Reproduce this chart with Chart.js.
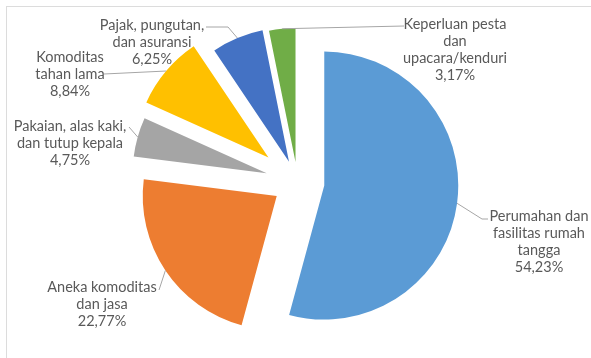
<!DOCTYPE html>
<html>
<head>
<meta charset="utf-8">
<script src="https://cdn.jsdelivr.net/npm/chart.js@4"></script>
<style>
    html, body { margin: 0; padding: 0; background: #fff; }
    #wrap { position: relative; width: 591px; height: 358px; }
    #frame { position: absolute; left: 6px; top: 6px; right: 0; bottom: 0;
             border-top: 1px solid #dcdcdc; border-left: 1px solid #dcdcdc; pointer-events: none; }
</style>
</head>
<body>
<div id="wrap">
    <canvas id="chartPengeluaran" width="591" height="358"></canvas>
    <div id="frame"></div>
</div>
<script>
const kategori = [
    ["Perumahan dan", "fasilitas rumah", "tangga"],
    ["Aneka komoditas", "dan jasa"],
    ["Pakaian, alas kaki,", "dan tutup kepala"],
    ["Komoditas", "tahan lama"],
    ["Pajak, pungutan,", "dan asuransi"],
    ["Keperluan pesta", "dan", "upacara/kenduri"]
];
const persen = [54.23, 22.77, 4.75, 8.84, 6.25, 3.17];

const warna = ["#5b9bd5", "#ed7d31", "#a5a5a5", "#ffc000", "#4472c4", "#70ad47"];

// tarikan tiap irisan (px) dan letak label
const geser = [27, 25, 32, 38, 22, 20];
const letakLabel = [
    { x: 539, y: 216, garis: [[482, 219], [488, 219]] },
    { x: 102, y: 287, garis: [[159, 290]] },
    { x: 70,  y: 126, garis: [[129, 127]] },
    { x: 70,  y: 57,  garis: [[104, 74]] },
    { x: 152, y: 25,  garis: [[228, 27], [206, 27]] },
    { x: 455, y: 24,  garis: [[404, 26]] }
];

const pecahIrisan = {
    id: "pecahIrisan",
    afterDatasetUpdate(chart, args) {
        args.meta.data.forEach((arc, i) => {
            const mid = (arc.startAngle + arc.endAngle) / 2;
            arc.x += geser[i] * Math.cos(mid);
            arc.y += geser[i] * Math.sin(mid);
        });
    }
};

const labelIrisan = {
    id: "labelIrisan",
    afterDraw(chart) {
        const ctx = chart.ctx;
        const meta = chart.getDatasetMeta(0);
        ctx.save();
        meta.data.forEach((arc, i) => {
            const mid = (arc.startAngle + arc.endAngle) / 2;
            const sx = arc.x + arc.outerRadius * Math.cos(mid);
            const sy = arc.y + arc.outerRadius * Math.sin(mid);
            const pos = letakLabel[i];

            ctx.strokeStyle = "#a6a6a6";
            ctx.lineWidth = 1;
            ctx.beginPath();
            ctx.moveTo(sx, sy);
            pos.garis.forEach(p => ctx.lineTo(p[0], p[1]));
            ctx.stroke();

            const baris = kategori[i].concat([persen[i].toFixed(2).replace(".", ",") + "%"]);
            ctx.fillStyle = "#595959";
            ctx.font = "14.5px Lato";
            ctx.textAlign = "center";
            ctx.textBaseline = "middle";
            baris.forEach((t, k) => ctx.fillText(t, pos.x, pos.y + k * 17));
        });
        ctx.restore();
    }
};

new Chart(document.getElementById("chartPengeluaran"), {
    type: "pie",
    data: {
        labels: kategori,
        datasets: [{
            data: persen,
            backgroundColor: warna,
            borderWidth: 0,
            hoverOffset: 0
        }]
    },
    options: {
        responsive: false,
        animation: false,
        events: [],
        radius: 134,
        layout: { padding: { top: 48, bottom: 42, left: 4, right: 0 } },
        plugins: {
            legend: { display: false },
            tooltip: { enabled: false }
        }
    },
    plugins: [pecahIrisan, labelIrisan]
});
</script>
</body>
</html>
